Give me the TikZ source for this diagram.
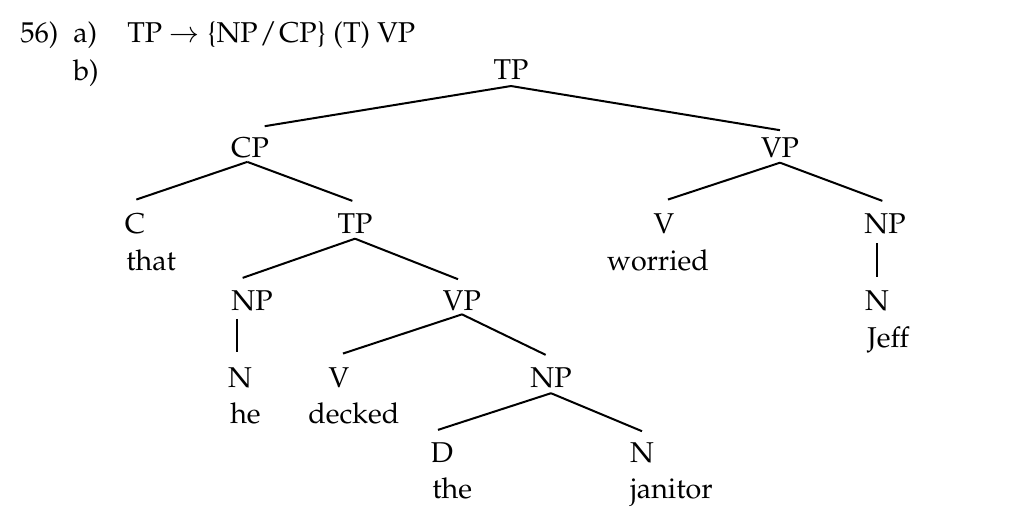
\documentclass[tikz,border=0pt]{standalone}
\usepackage[T1]{fontenc}
\usepackage{mathpazo}
\begin{document}
\begin{tikzpicture}[x=0.75pt,y=-0.75pt,
  every node/.style={font=\fontsize{21.5}{26}\selectfont},
  lab/.style={anchor=base,inner sep=0pt},
  txt/.style={anchor=base west,inner sep=0pt},
  edge/.style={line width=1.5pt}]
\useasboundingbox (0,0) rectangle (1018,507);
% header
\node[txt] (num) at (20,42) {56)};
\node[txt] (pa) at (73,42) {a)};
\node[txt] (rule) at (127,42) {TP $\rightarrow$ \{NP\kern1.5pt/\kern1.5pt CP\} (T) VP};
\node[txt] (pb) at (73,80) {b)};
% tree labels
\node[lab] (tp0) at (511,79) {TP};
\node[lab] (cp) at (250,157) {CP};
\node[lab] (vp1) at (780,157) {VP};
\node[lab] (c) at (135,233) {C};
\node[txt] (that) at (126,270) {that};
\node[lab] (tp1) at (355,233) {TP};
\node[lab] (v1) at (664,233) {V};
\node[lab] (worried) at (658,270) {worried};
\node[lab] (np1) at (885,233) {NP};
\node[lab] (n1) at (877,310) {N};
\node[txt] (jeff) at (867,347) {Jeff};
\node[lab] (np2) at (252,310) {NP};
\node[lab] (vp2) at (462,310) {VP};
\node[lab] (n2) at (240,387) {N};
\node[txt] (he) at (230,423) {he};
\node[lab] (v2) at (339,387) {V};
\node[txt] (decked) at (308,423) {decked};
\node[lab] (np3) at (551,387) {NP};
\node[lab] (d) at (442,462) {D};
\node[txt] (the) at (432,498) {the};
\node[lab] (n3) at (642,462) {N};
\node[txt] (janitor) at (630,498) {janitor};
% edges
\draw[edge] ([yshift=-5pt]tp0.south) -- ([xshift=11pt,yshift=8pt]cp.north);
\draw[edge] ([yshift=-5pt]tp0.south) -- ([yshift=5pt]vp1.north);
\draw[edge] ([xshift=-2pt,yshift=-3pt]cp.south) -- ([xshift=1pt,yshift=10pt]c.north);
\draw[edge] ([xshift=-2pt,yshift=-3pt]cp.south) -- ([xshift=-2pt,yshift=9pt]tp1.north);
\draw[edge] ([yshift=-4pt]vp1.south) -- ([xshift=3pt,yshift=10pt]v1.north);
\draw[edge] ([yshift=-4pt]vp1.south) -- ([xshift=-2pt,yshift=9pt]np1.north);
\draw[edge] ([yshift=-4pt]tp1.south) -- ([xshift=-7pt,yshift=9pt]np2.north);
\draw[edge] ([yshift=-4pt]tp1.south) -- ([xshift=-3pt,yshift=8pt]vp2.north);
\draw[edge] ([yshift=-3pt]vp2.south) -- ([xshift=3pt,yshift=10pt]v2.north);
\draw[edge] ([yshift=-3pt]vp2.south) -- ([xshift=-4pt,yshift=9pt]np3.north);
\draw[edge] ([yshift=-4pt]np3.south) -- ([xshift=-3pt,yshift=9pt]d.north);
\draw[edge] ([yshift=-4pt]np3.south) -- ([yshift=8pt]n3.north);
\draw[edge] ([yshift=-6pt]np2.south -| n2.north) ++(-2.2pt,0) -- ([xshift=-2.2pt,yshift=11pt]n2.north);
\draw[edge] ([yshift=-7pt]np1.south -| n1.north) -- ([yshift=10pt]n1.north);
\end{tikzpicture}
\end{document}
